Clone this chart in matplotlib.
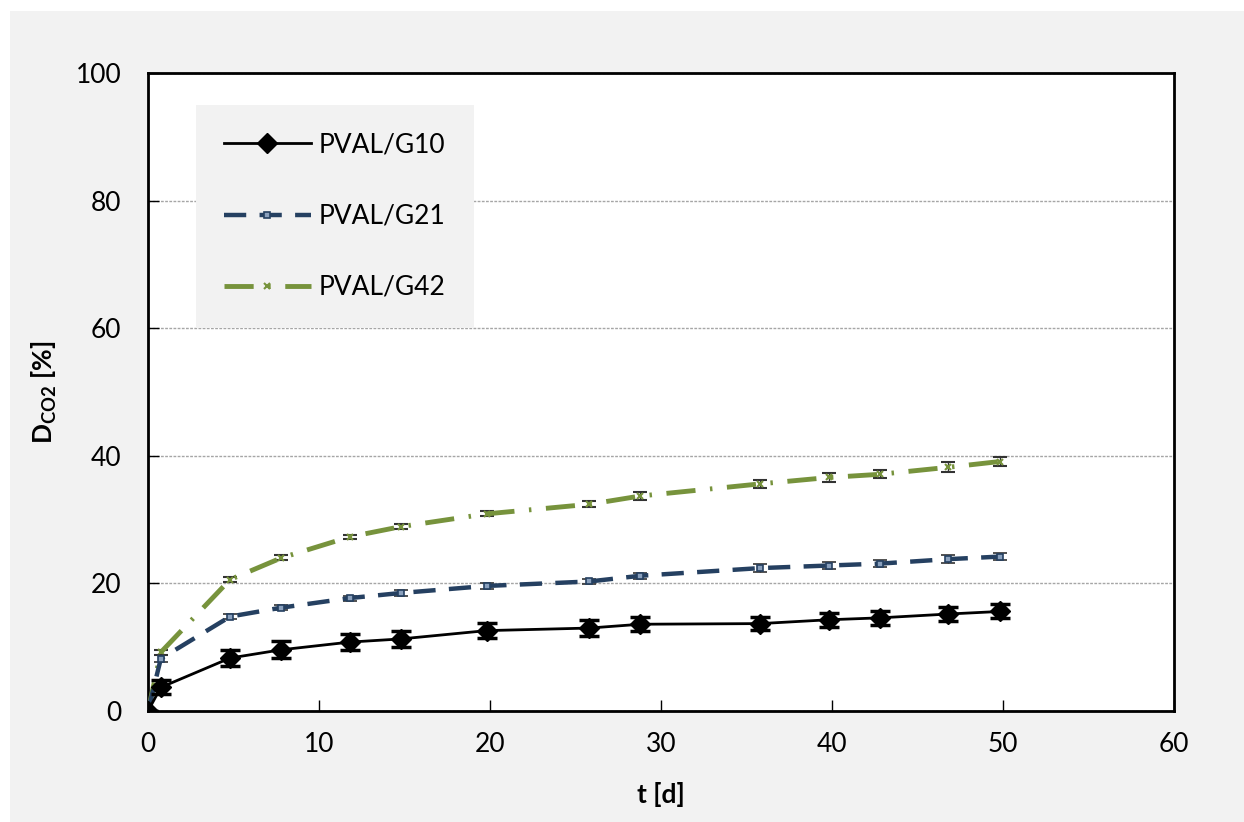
import numpy as np
import matplotlib.pyplot as plt
from matplotlib.patches import Rectangle
from matplotlib.lines import Line2D

plt.rcParams['font.family'] = ['Lato', 'DejaVu Sans']
plt.rcParams['mathtext.fontset'] = 'custom'
plt.rcParams['mathtext.rm'] = 'Lato'
plt.rcParams['mathtext.bf'] = 'Lato:bold'

# sampling days
t = [0, 0.75, 4.8, 7.8, 11.8, 14.8, 19.8, 25.8, 28.8, 35.8, 39.8, 42.8, 46.8, 49.8]

# CO2 degree of degradation [%]
g10 = [0, 3.7, 8.3, 9.6, 10.8, 11.3, 12.6, 13.0, 13.6, 13.7, 14.3, 14.6, 15.2, 15.6]
g21 = [0, 8.2, 14.8, 16.2, 17.7, 18.5, 19.6, 20.3, 21.2, 22.4, 22.8, 23.1, 23.8, 24.2]
g42 = [0, 9.2, 20.6, 24.0, 27.3, 28.9, 30.9, 32.4, 33.7, 35.6, 36.6, 37.1, 38.2, 39.1]

# standard deviations
g10_err = [0, 1.1, 1.3, 1.3, 1.2, 1.2, 1.2, 1.2, 1.1, 1.0, 1.1, 1.1, 1.1, 1.1]
g21_err = [0, 0.5, 0.45, 0.4, 0.4, 0.4, 0.4, 0.4, 0.45, 0.6, 0.6, 0.6, 0.6, 0.6]
g42_err = [0, 0.4, 0.45, 0.4, 0.3, 0.35, 0.4, 0.5, 0.55, 0.65, 0.7, 0.65, 0.75, 0.75]

labels = ['PVAL/G10', 'PVAL/G21', 'PVAL/G42']

fig = plt.figure(figsize=(12.44, 8.22), dpi=100)
fig.patch.set_facecolor('white')
fig.patches.append(Rectangle((10 / 1244, 0), 1 - 10 / 1244, 1 - 11 / 822,
                             transform=fig.transFigure, facecolor='#f2f2f2',
                             edgecolor='none', zorder=-10))

ax = fig.add_axes([148 / 1244, 1 - 711 / 822, 1026 / 1244, 638 / 822])
ax.set_facecolor('white')

s10 = dict(color='black', lw=2, marker='D', ms=10)
s21 = dict(color='#254061', lw=3.2, ls=(0, (5, 3)), marker='s', ms=5,
           mfc='#8aa0bd', mec='#254061', mew=1.2)
s42 = dict(color='#77933c', lw=3.5, ls=(0, (6, 3, 0.5, 3)), marker='x', ms=5,
           mew=1.5, mec='#77933c')

ax.errorbar(t, g10, yerr=g10_err, ecolor='black', elinewidth=2.5, capsize=7,
            capthick=2.5, zorder=5, **s10)
ax.errorbar(t, g21, yerr=g21_err, ecolor='#333333', elinewidth=1, capsize=5,
            capthick=1, zorder=4, **s21)
ax.errorbar(t, g42, yerr=g42_err, ecolor='#333333', elinewidth=1, capsize=5,
            capthick=1, zorder=3, **s42)

ax.set_xlim(0, 60)
ax.set_ylim(0, 100)
ax.set_xticks(np.arange(0, 61, 10))
ax.set_yticks(np.arange(0, 101, 20))
ax.tick_params(axis='both', direction='in', length=8, width=1, labelsize=19)
ax.tick_params(axis='y', pad=19)
ax.tick_params(axis='x', pad=15)
ax.yaxis.grid(True, color='#a6a6a6', lw=1, ls=(0, (2, 1)))
ax.set_axisbelow(True)
for s in ax.spines.values():
    s.set_linewidth(2)

ax.set_xlabel('t [d]', fontsize=19, fontweight='bold', labelpad=18)
ax.set_ylabel(r'$\mathbf{D}_{\mathbf{CO2}}$ [%]', fontsize=19, fontweight='bold', labelpad=12)

handles = [Line2D([], [], **s10), Line2D([], [], **s21), Line2D([], [], **s42)]
ax.legend(handles, labels, loc='upper left', bbox_to_anchor=(0.047, 0.95),
          borderaxespad=0, fontsize=19, frameon=True, facecolor='#f2f2f2',
          edgecolor='none', fancybox=False, framealpha=1, labelspacing=1.75,
          handlelength=3.3, handletextpad=0.3, borderpad=1.05)

fig.savefig('out.png', dpi=100, facecolor=fig.get_facecolor())
